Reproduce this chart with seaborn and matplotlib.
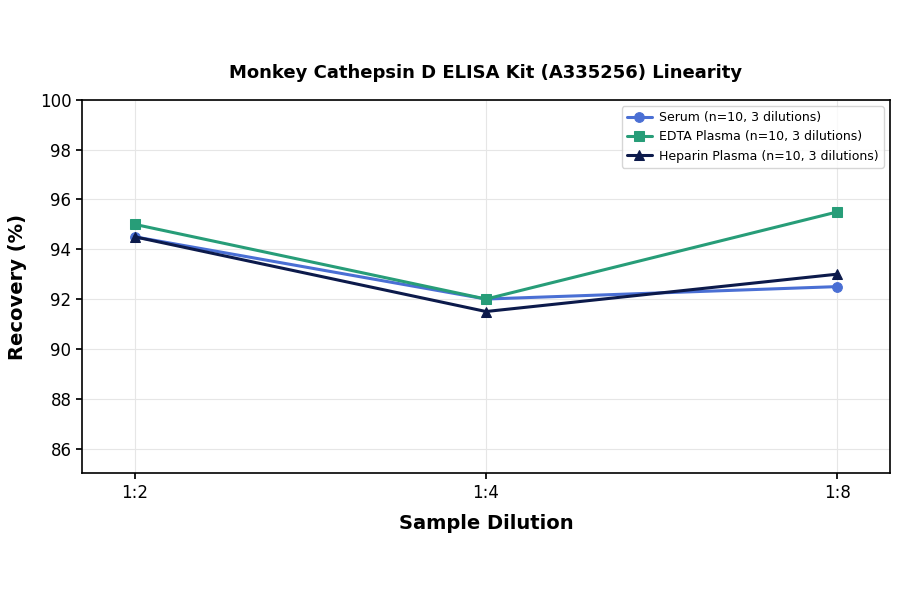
import matplotlib
matplotlib.use('Agg')
import matplotlib.pyplot as plt
import pandas as pd
import seaborn as sns

sns.set_theme(style='whitegrid')
plt.rcParams['font.family'] = ['DejaVu Sans']
plt.rcParams['text.color'] = 'black'
plt.rcParams['axes.labelcolor'] = 'black'

dilutions = ['1:2', '1:4', '1:8']
serum = [94.5, 92.0, 92.5]
edta = [95.0, 92.0, 95.5]
heparin = [94.5, 91.5, 93.0]

series_names = ['Serum (n=10, 3 dilutions)', 'EDTA Plasma (n=10, 3 dilutions)', 'Heparin Plasma (n=10, 3 dilutions)']
colors = ['#4a6fd4', '#279d78', '#0c1a4b']
markers = ['o', 's', '^']

df = pd.DataFrame({
    'pos': list(range(len(dilutions))) * 3,
    'recovery': serum + edta + heparin,
    'series': [s for s in series_names for _ in dilutions],
})

fig, ax = plt.subplots(figsize=(9, 5.94), dpi=100)
for name, color, marker in zip(series_names, colors, markers):
    sub = df[df['series'] == name]
    sns.lineplot(data=sub, x='pos', y='recovery', ax=ax, color=color, marker=marker,
                 markersize=7, linewidth=2.2, markeredgecolor=color, label=name)

ax.set_xticks(range(len(dilutions)))
ax.set_xticklabels(dilutions)
ax.set_xlim(-0.15, 2.15)
ax.set_ylim(85, 100)
ax.set_yticks([86, 88, 90, 92, 94, 96, 98, 100])
ax.tick_params(axis='both', labelsize=12, colors='black', length=4, left=True, bottom=True)
ax.grid(True, color='#e6e6e6', linewidth=0.8)
ax.set_facecolor('white')
for sp in ax.spines.values():
    sp.set_color('black')
    sp.set_linewidth(1.2)

ax.set_title('Monkey Cathepsin D ELISA Kit (A335256) Linearity', fontsize=13, fontweight='bold', pad=16, color='black')
ax.set_xlabel('Sample Dilution', fontsize=14, fontweight='bold', labelpad=9)
ax.set_ylabel('Recovery (%)', fontsize=14, fontweight='bold', labelpad=9)
leg = ax.legend(loc='upper right', fontsize=9, frameon=True, handletextpad=0.6)
for t in leg.get_texts():
    t.set_color('black')

fig.subplots_adjust(left=0.091, right=0.989, top=0.832, bottom=0.203)
fig.savefig('out.png', dpi=100)
